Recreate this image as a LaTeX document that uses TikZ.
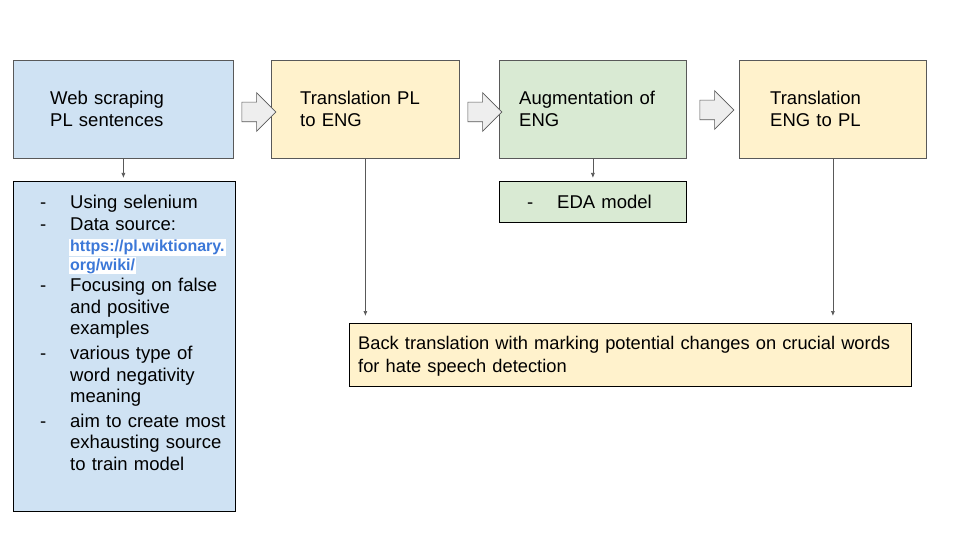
\documentclass[tikz,border=0pt]{standalone}
\usepackage{fontspec}
\setmainfont{Liberation Sans}
\usetikzlibrary{positioning}
\usetikzlibrary{shapes.arrows}
\usetikzlibrary{arrows.meta}
\definecolor{blueFill}{HTML}{CFE2F3}
\definecolor{yellowFill}{HTML}{FFF2CC}
\definecolor{greenFill}{HTML}{D9EAD3}
\definecolor{edgeGray}{HTML}{595959}
\definecolor{arrowFill}{HTML}{EEEEEE}
\definecolor{linkBlue}{HTML}{3C78D8}

\begin{document}
\begin{tikzpicture}[x=1pt,y=-1pt]

            \tikzstyle{stageBox} = [draw=edgeGray, line width=0.8pt, anchor=north west, minimum width=188pt, minimum height=98pt, inner sep=0pt];
            \tikzstyle{noteBox} = [draw=black, line width=0.8pt, anchor=north west, inner sep=0pt];
            \tikzstyle{stepArrow} = [single arrow, draw=edgeGray, fill=arrowFill, line width=0.6pt, minimum height=34pt, inner xsep=0pt, inner ysep=9.5pt, single arrow head extend=9.5pt];
            \tikzstyle{thinEdge} = [draw=edgeGray, line width=0.7pt, -{Latex[length=5pt,width=4pt]}];
            \tikzstyle{boxText} = [anchor=base west, inner sep=0pt, text width=220pt, align=left, font={\fontsize{18.5}{21.7}\selectfont}];
            \tikzstyle{linkText} = [anchor=base west, inner sep=1pt, fill=white, text=linkBlue, font={\fontsize{16}{18}\selectfont\bfseries}];

            \fill[white] (0,0) rectangle (960,540);
            \useasboundingbox (0,0) rectangle (960,540);

            % stages
            \node[stageBox, fill=blueFill, minimum width=220pt] (scrape) at (13,60) {};
            \node[stageBox, fill=yellowFill] (transPL) at (271,60) {};
            \node[stageBox, fill=greenFill, minimum width=187pt] (augment) at (499,60) {};
            \node[stageBox, fill=yellowFill, minimum width=187pt] (transENG) at (739,60) {};

            \node[boxText] (scrapeLabel) at (50,105) {Web scraping\\PL sentences};
            \node[boxText] (transPLLabel) at (300,105) {Translation PL\\to ENG};
            \node[boxText] (augmentLabel) at (519,105) {Augmentation of\\ENG};
            \node[boxText] (transENGLabel) at (770,105) {Translation\\ENG to PL};

            \node[stepArrow] (arrScrape) at (254,112) {};
            \node[stepArrow] (arrTrans) at (480,112) {};
            \node[stepArrow] (arrAugment) at (712,110) {};

            % notes
            \node[noteBox, fill=blueFill, minimum width=222pt, minimum height=330pt] (scrapeNotes) at (13,181) {};
            \node[noteBox, fill=greenFill, minimum width=187pt, minimum height=41pt] (augmentNotes) at (499,181) {};
            \node[noteBox, fill=yellowFill, minimum width=562pt, minimum height=63pt] (backTrans) at (349,323) {};

            \node[boxText] (dashSel) at (40,208.3) {-};
            \node[boxText] (itemSel) at (70,208.3) {Using selenium};
            \node[boxText] (dashSrc) at (40,230) {-};
            \node[boxText] (itemSrc) at (70,230) {Data source:};
            \node[linkText] (srcLinkA) at (69,251.7) {https://pl.wiktionary.};
            \node[linkText] (srcLinkB) at (69,270) {org/wiki/};
            \node[boxText] (dashFocus) at (40,291.5) {-};
            \node[boxText] (itemFocus) at (70,291.5) {Focusing on false\\and positive\\examples};
            \node[boxText] (dashType) at (40,359.5) {-};
            \node[boxText] (itemType) at (70,359.5) {various type of\\word negativity\\meaning};
            \node[boxText] (dashAim) at (40,427) {-};
            \node[boxText] (itemAim) at (70,427) {aim to create most\\exhausting source\\to train model};

            \node[boxText] (dashEda) at (527,208.3) {-};
            \node[boxText] (itemEda) at (557,208.3) {EDA model};

            \node[boxText, text width=560pt, font={\fontsize{18.3}{22.5}\selectfont}] (backLabel) at (358,349.5) {Back translation with marking potential changes on crucial words\\for hate speech detection};

            \draw[thinEdge, shorten >=3pt] (scrape.south) -- (scrape.south |- scrapeNotes.north);
            \draw[thinEdge, shorten >=3pt] (augment.south) -- (augment.south |- augmentNotes.north);
            \draw[thinEdge, shorten >=7pt] (transPL.south) -- (transPL.south |- backTrans.north);
            \draw[thinEdge, shorten >=7pt] (transENG.south) -- (transENG.south |- backTrans.north);
          \end{tikzpicture}
\end{document}
